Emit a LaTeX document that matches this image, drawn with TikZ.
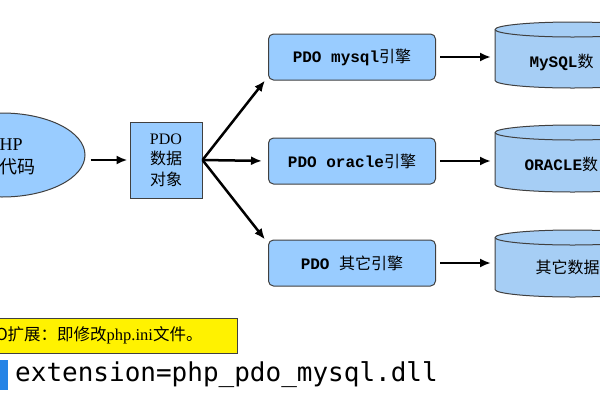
\documentclass[tikz,border=0pt]{standalone}
\usepackage{fontspec}
\setmainfont{Liberation Serif}
\newfontfamily\cjk{Noto Sans CJK SC}
\newfontfamily\engfont{Liberation Mono}
\newfontfamily\codefont{DejaVu Sans Mono}
\usetikzlibrary{shapes.geometric,arrows.meta,positioning}
\definecolor{boxblue}{RGB}{153,204,255}
\definecolor{dbblue}{RGB}{166,206,245}
\definecolor{edgegray}{RGB}{64,64,64}
\definecolor{barblue}{RGB}{38,132,230}

\begin{document}
\begin{tikzpicture}[x=1pt, y=-1pt,
  every node/.style={font=\fontsize{16}{20}\selectfont},
  box/.style={draw=edgegray, fill=boxblue, line width=1pt},
  engine/.style={box, rounded corners=5pt, minimum width=167pt, minimum height=46pt, inner sep=0pt},
  dbbody/.style={draw=edgegray, fill=dbblue, line width=1pt},
  flow/.style={-{Latex[length=11pt,width=9pt]}, line width=2.5pt}]
  \useasboundingbox (0,0) rectangle (600,400);
  \clip (0,0) rectangle (600,400);
  % PHP code and the data object
  \node[ellipse, box, minimum width=166pt, minimum height=84pt] (php) at (2,155) {};
  \node[anchor=west, align=left, font=\fontsize{18}{23}\selectfont] (phptxt) at (-4,157) {HP\\{\cjk 代码}};
  \node[box, minimum width=72pt, minimum height=76pt, align=center, font=\fontsize{16}{20.5}\selectfont] (pdo) at (166,160) {PDO\\{\cjk 数据}\\{\cjk 对象}};
  % engines
  \node[engine] (mysql) at (352,57) {{\engfont\bfseries PDO mysql}{\cjk 引擎}};
  \node[engine] (oracle) at (352,161) {{\engfont\bfseries PDO oracle}{\cjk 引擎}};
  \node[engine] (other) at (352,263) {{\engfont\bfseries PDO }{\cjk 其它引擎}};
  % databases (cut off at the right)
  \foreach \dbname/\ytop/\ybot in {mysqldb/22/88, oracledb/125/192, otherdb/230/297} {
    \draw[dbbody] (495,\ytop+7.5) -- (495,\ybot-7.5)
      arc[start angle=180, end angle=360, x radius=77.5pt, y radius=7.5pt]
      -- (650,\ytop+7.5)
      arc[start angle=0, end angle=180, x radius=77.5pt, y radius=7.5pt] -- cycle;
    \draw[edgegray, line width=1pt] (495,\ytop+7.5)
      arc[start angle=180, end angle=360, x radius=77.5pt, y radius=7.5pt];
    \coordinate (\dbname) at (495,{(\ytop+\ybot)/2});
  }
  \node[anchor=west] (mysqltxt) at (526,62) {{\engfont\bfseries MySQL}{\cjk 数}};
  \node[anchor=west] (oracletxt) at (521,164) {{\engfont\bfseries ORACLE}{\cjk 数}};
  \node[anchor=west] (othertxt) at (532,267) {\cjk 其它数据};
  % arrows
  \draw[flow, shorten <=5pt, shorten >=2pt] (php.east |- pdo.west) -- (pdo.west);
  \draw[flow] (pdo.east) -- ([xshift=-3pt]mysql.south west);
  \draw[flow, shorten >=6pt] (pdo.east) -- (oracle.west);
  \draw[flow] (pdo.east) -- ([xshift=-3pt]other.north west);
  \draw[flow, shorten <=4pt, shorten >=4pt] (mysql.east) -- (mysql.east -| mysqldb);
  \draw[flow, shorten <=4pt, shorten >=4pt] (oracle.east) -- (oracle.east -| oracledb);
  \draw[flow, shorten <=4pt, shorten >=4pt] (other.east) -- (other.east -| otherdb);
  % note and config line
  \node[draw=edgegray, fill=yellow, line width=1pt, anchor=west, minimum width=245pt, minimum height=35pt, inner sep=0pt, font=\fontsize{16.5}{19}\selectfont] (note) at (-8,335.5) {\makebox[245pt][l]{\hspace{3pt}{\cjk O扩展：即修改}php.ini{\cjk 文件。}}};
  \node[fill=barblue, anchor=north west, minimum width=8pt, minimum height=30pt, inner sep=0pt] (bar) at (0,360) {};
  \node[anchor=west, inner sep=0pt, font=\codefont\fontsize{26}{30}\selectfont] (code) at (15,375) {extension=php\_pdo\_mysql.dll};
\end{tikzpicture}
\end{document}
